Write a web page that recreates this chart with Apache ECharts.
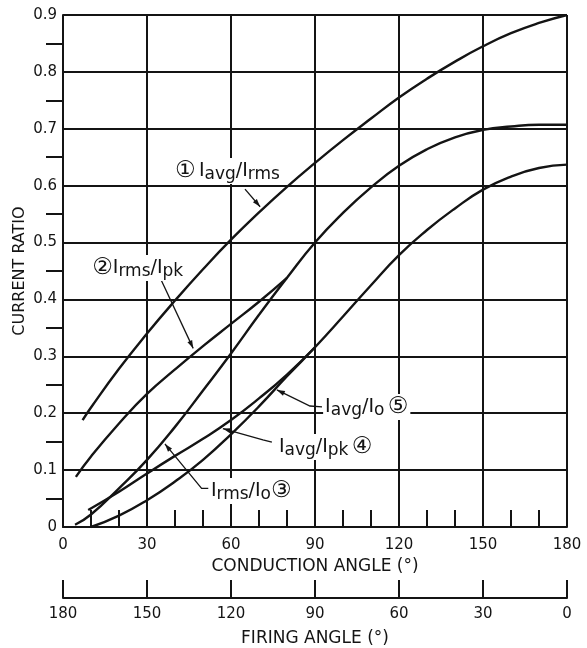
<!DOCTYPE html>
<html><head><meta charset="utf-8">
<script src="https://cdn.jsdelivr.net/npm/echarts@6/dist/echarts.min.js"></script>
<style>html,body{margin:0;padding:0;background:#fff}#c{width:587px;height:648px}</style>
</head><body><div id="c"></div>
<script>
// ---- data ----
const xAvgRms = [7,10,20,30,40,50,60,70,80,90,100,110,120,130,140,150,160,170,180];
const yAvgRms = [0.188,0.21,0.278,0.34,0.398,0.453,0.505,0.553,0.598,0.64,0.68,0.718,0.755,0.788,0.818,0.845,0.868,0.886,0.9];

const xRmsPk = [4.6,10,20,30,40,50,60,70,80];
const yRmsPk = [0.088,0.124,0.182,0.234,0.277,0.318,0.357,0.396,0.438];

const xRmsIo = [4.3,10,20,30,40,50,60,70,80,90,100,110,120,130,140,150,160,170,180];
const yRmsIo = [0.004,0.022,0.068,0.118,0.176,0.24,0.305,0.373,0.438,0.5,0.552,0.597,0.635,0.664,0.685,0.698,0.704,0.707,0.707];

const xAvgPk = [9,20,30,40,50,60,70,80,90];
const yAvgPk = [0.03,0.062,0.094,0.125,0.155,0.188,0.226,0.268,0.316];

const xAvgIo = [10,20,30,40,50,60,70,80,90,100,110,120,130,140,150,160,170,180];
const yAvgIo = [0,0.02,0.047,0.08,0.118,0.163,0.212,0.265,0.316,0.37,0.425,0.478,0.522,0.56,0.593,0.616,0.631,0.637];

const conductionTicks = [0,30,60,90,120,150,180];
const ratioTicks = [0,0.1,0.2,0.3,0.4,0.5,0.6,0.7,0.8,0.9];

// annotation labels (anchor in data units) and leader polylines (last point = arrow tip)
const labels = [
  {text:'{c|①} {b|I}{s|avg}{b|/I}{s|rms}', at:[39.3,0.6275]},
  {text:'{c|②}{b|I}{s|rms}{b|/I}{s|pk}', at:[9.7,0.457]},
  {text:'{b|I}{s|rms}{b|/I}{s|o}{c|③}', at:[52.1,0.065]},
  {text:'{b|I}{s|avg}{b|/I}{s|pk} {c|④}', at:[76.4,0.1424]},
  {text:'{b|I}{s|avg}{b|/I}{s|o} {c|⑤}', at:[92.9,0.2127]}
];
const leaders = [
  [[65,0.594],[70.4,0.563]],
  [[34.6,0.439],[46.5,0.314]],
  [[51.9,0.068],[49.5,0.068],[36.4,0.146]],
  [[74.6,0.149],[71.4,0.153],[57.1,0.173]],
  [[92.5,0.211],[88.2,0.2127],[76.4,0.241]]
];

const INK = '#141414';
const FONT = 'DejaVu Sans';
const zip = (xs, ys) => xs.map((x, i) => [x, ys[i]]);
const mkSeries = (name, xs, ys) => ({
  name, type:'line', xAxisIndex:0, yAxisIndex:0, data: zip(xs, ys),
  smooth:0.5, symbol:'none', z:5, silent:true,
  lineStyle:{color:INK, width:2.4}
});

const chart = echarts.init(document.getElementById('c'), null, {renderer:'canvas'});
chart.setOption({
  animation:false,
  backgroundColor:'#fff',
  textStyle:{fontFamily:FONT, color:INK},
  grid:{left:63, right:20, top:15, bottom:121, containLabel:false, outerBoundsMode:'none'},
  xAxis:[{
    type:'value', min:conductionTicks[0], max:conductionTicks[conductionTicks.length-1], interval:30,
    position:'bottom',
    name:'CONDUCTION ANGLE (°)', nameLocation:'middle', nameGap:31, nameMoveOverlap:false,
    nameTextStyle:{fontFamily:FONT, fontSize:17, color:INK},
    axisLine:{show:true, lineStyle:{color:INK, width:2}},
    axisTick:{show:true, inside:true, length:17, lineStyle:{color:INK, width:2}},
    minorTick:{show:true, splitNumber:3, length:17, lineStyle:{color:INK, width:2}},
    axisLabel:{margin:11, fontFamily:FONT, fontSize:15, color:INK},
    splitLine:{show:true, lineStyle:{color:INK, width:2}}
  },{
    type:'value', min:0, max:180, interval:30, inverse:true,
    position:'bottom', offset:71,
    name:'FIRING ANGLE (°)', nameLocation:'middle', nameGap:32, nameMoveOverlap:false,
    nameTextStyle:{fontFamily:FONT, fontSize:17, color:INK},
    axisLine:{show:true, lineStyle:{color:INK, width:2}},
    axisTick:{show:true, inside:true, length:18, lineStyle:{color:INK, width:2}},
    axisLabel:{margin:9, fontFamily:FONT, fontSize:15, color:INK},
    splitLine:{show:false}
  }],
  yAxis:{
    type:'value', min:ratioTicks[0], max:ratioTicks[ratioTicks.length-1], interval:0.1,
    name:'CURRENT RATIO', nameLocation:'middle', nameGap:35, nameRotate:90, nameMoveOverlap:false,
    nameTextStyle:{fontFamily:FONT, fontSize:16, color:INK},
    axisLine:{show:true, lineStyle:{color:INK, width:2}},
    axisTick:{show:false},
    minorTick:{show:true, splitNumber:2, length:17, lineStyle:{color:INK, width:2}},
    axisLabel:{margin:6, fontFamily:FONT, fontSize:15, color:INK,
      formatter:v => v === 0 ? '0' : v.toFixed(1)},
    splitLine:{show:true, lineStyle:{color:INK, width:2}}
  },
  series:[
    mkSeries('Iavg/Irms', xAvgRms, yAvgRms),
    mkSeries('Irms/Ipk', xRmsPk, yRmsPk),
    mkSeries('Irms/Io', xRmsIo, yRmsIo),
    mkSeries('Iavg/Ipk', xAvgPk, yAvgPk),
    mkSeries('Iavg/Io', xAvgIo, yAvgIo)
  ]
});

const toPx = p => chart.convertToPixel({xAxisIndex:0, yAxisIndex:0}, p);
const rich = {
  b:{fontFamily:FONT, fontSize:19, lineHeight:24, color:INK},
  s:{fontFamily:FONT, fontSize:17, lineHeight:14, verticalAlign:'bottom', color:INK},
  c:{fontFamily:FONT, fontSize:23, lineHeight:24, color:INK}
};
const graphics = [];
labels.forEach(l => {
  const [x, y] = toPx(l.at);
  graphics.push({type:'text', z:50, style:{
    text:l.text, x, y: y + 1, align:'left', verticalAlign:'middle', rich,
    fill:INK, backgroundColor:'#fff', padding:[1,2,1,2]
  }});
});
leaders.forEach(pts => {
  const px = pts.map(toPx);
  graphics.push({type:'polyline', z:40, shape:{points:px}, style:{stroke:INK, lineWidth:1.3, fill:null}});
  const tip = px[px.length-1], prev = px[px.length-2];
  const dx = tip[0]-prev[0], dy = tip[1]-prev[1], L = Math.hypot(dx, dy);
  const ux = dx/L, uy = dy/L, len = 8, hw = 2.6;
  const bx = tip[0]-ux*len, by = tip[1]-uy*len;
  graphics.push({type:'polygon', z:41, shape:{points:[tip,[bx-uy*hw, by+ux*hw],[bx+uy*hw, by-ux*hw]]},
    style:{fill:INK}});
});
chart.setOption({graphic:graphics});
</script></body></html>
